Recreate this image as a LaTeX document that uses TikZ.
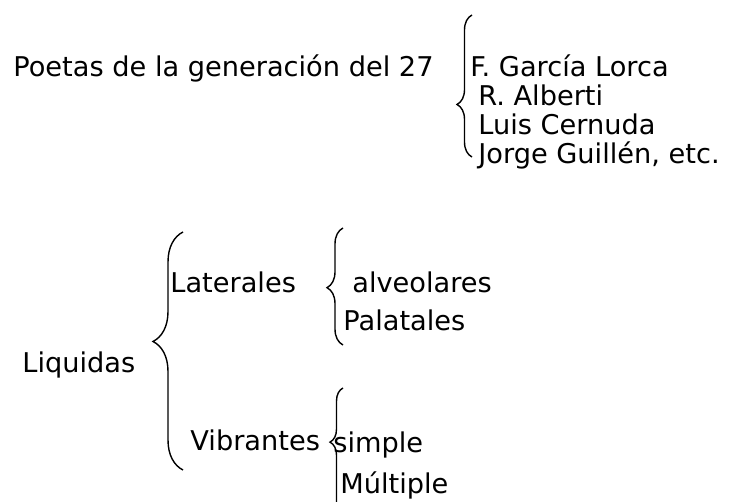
\documentclass[tikz,border=0pt]{standalone}
\usepackage{fontspec}
\setmainfont{DejaVu Sans}
\usetikzlibrary{decorations.pathreplacing}

\tikzset{
	txt/.style={anchor=base west, inner sep=0pt, font=\fontsize{13.6}{16}\selectfont},
	llave/.style 2 args={decorate, line width=0.7pt, decoration={brace, amplitude=#1, aspect=#2}}
}

\begin{document}
\begin{tikzpicture}[x=0.5pt, y=-0.5pt]
		\useasboundingbox (0,0) rectangle (732,502);
		\clip (0,0) rectangle (732,502);
		% poetas
		\node[txt] (poetas) at (13,77) {Poetas de la generación del 27};
		\node[txt] (lorca) at (470,77) {F. García Lorca};
		\node[txt] (alberti) at (478,106) {R. Alberti};
		\node[txt] (cernuda) at (478,135) {Luis Cernuda};
		\node[txt] (guillen) at (478,164) {Jorge Guillén, etc.};
		\coordinate (poetasB) at (472,157);
		\coordinate (poetasT) at (472,15);
		\draw[llave={7.5pt}{0.37}] (poetasB) -- (poetasT);
		% liquidas
		\node[txt] (liquidas) at (22,372) {Liquidas};
		\node[txt] (laterales) at (170,292) {Laterales};
		\node[txt] (vibrantes) at (190,450) {Vibrantes};
		\node[txt] (alveolares) at (352,292) {alveolares};
		\node[txt] (palatales) at (343,330) {Palatales};
		\node[txt] (simple) at (333,452) {simple};
		\node[txt] (multiple) at (340,493) {Múltiple};
		\coordinate (liqB) at (183,470);
		\coordinate (liqT) at (183,232);
		\coordinate (latB) at (343,345);
		\coordinate (latT) at (343,228);
		\coordinate (vibB) at (343,520);
		\coordinate (vibT) at (343,388);
		\draw[llave={15pt}{0.54}] (liqB) -- (liqT);
		\draw[llave={8pt}{0.49}] (latB) -- (latT);
		\draw[llave={6.5pt}{0.59}] (vibB) -- (vibT);
\end{tikzpicture}
\end{document}
